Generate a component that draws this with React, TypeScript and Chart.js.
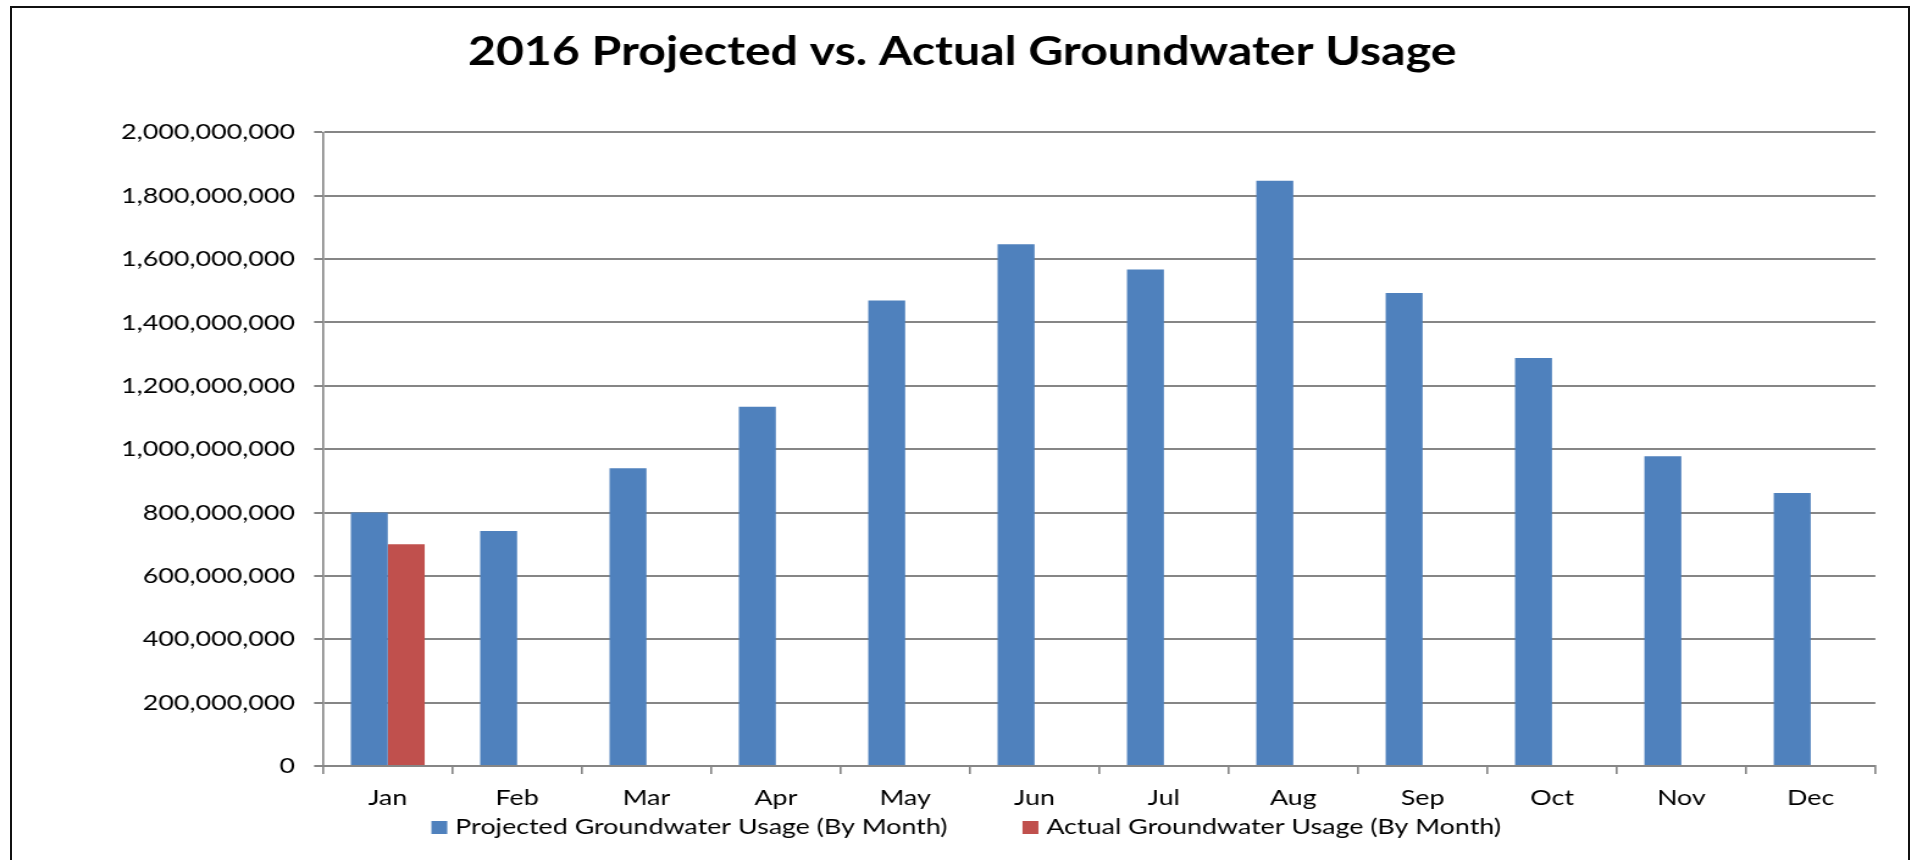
import React, { useEffect, useRef } from "react";
import { Chart, registerables } from "chart.js";

Chart.register(...registerables);

const chartTitle = "2016 Projected vs. Actual Groundwater Usage";
const months = ["Jan", "Feb", "Mar", "Apr", "May", "Jun", "Jul", "Aug", "Sep", "Oct", "Nov", "Dec"];
const projectedUsage = [
  800000000, 742000000, 940000000, 1134000000, 1469000000, 1647000000,
  1567000000, 1847000000, 1493000000, 1288000000, 978000000, 862000000,
];
const actualUsage: (number | null)[] = [
  700000000, null, null, null, null, null, null, null, null, null, null, null,
];
const seriesNames = [
  "Projected Groundwater Usage (By Month)",
  "Actual Groundwater Usage (By Month)",
];
const seriesColors = ["#4F81BD", "#C0504D"];
const yMin = 0;
const yMax = 2000000000;
const yStep = 200000000;

const FONT = "Lato, 'Open Sans', sans-serif";
const GRID = "#868686";

// The original picture is a horizontally stretched Excel chart: the chart is
// rendered on a narrower canvas and displayed stretched to the page width.
const PAGE_W = 1917;
const PAGE_H = 860;
const STRETCH = 1.22;
const CANVAS_W = Math.round(PAGE_W / STRETCH);
const sx = (v: number) => v / STRETCH;
const PAD_LEFT = 6;

const bottomLegend = {
  id: "bottomLegend",
  afterDraw(chart: any) {
    const ctx = chart.ctx as CanvasRenderingContext2D;
    ctx.save();
    ctx.font = `22px ${FONT}`;
    const boxW = 13;
    const boxH = 13;
    const gap = sx(8);
    const spacing = sx(75);
    const items = chart.data.datasets.map((ds: any) => ({
      label: ds.label as string,
      color: ds.backgroundColor as string,
      w: ctx.measureText(ds.label).width,
    }));
    const total =
      items.reduce((s: number, it: any) => s + boxW + gap + it.w, 0) + spacing * (items.length - 1);
    let x = sx(966) - total / 2;
    const y = chart.chartArea.bottom + 61;
    ctx.textBaseline = "middle";
    ctx.textAlign = "left";
    for (const it of items) {
      ctx.fillStyle = it.color;
      ctx.fillRect(x, Math.round(y - boxH / 2), boxW, boxH);
      x += boxW + gap;
      ctx.fillStyle = "#000";
      ctx.fillText(it.label, x, y);
      x += it.w + spacing;
    }
    ctx.restore();
  },
};

export default function App() {
  const canvasRef = useRef<HTMLCanvasElement | null>(null);

  useEffect(() => {
    if (!canvasRef.current) return;
    Chart.defaults.font.family = FONT;
    const chart = new Chart(canvasRef.current, {
      type: "bar",
      data: {
        labels: months,
        datasets: [
          {
            label: seriesNames[0],
            data: projectedUsage,
            backgroundColor: seriesColors[0],
            borderWidth: 0,
            categoryPercentage: 2 / 3.5,
            barPercentage: 1,
          },
          {
            label: seriesNames[1],
            data: actualUsage,
            backgroundColor: seriesColors[1],
            borderWidth: 0,
            categoryPercentage: 2 / 3.5,
            barPercentage: 1,
          },
        ],
      },
      options: {
        responsive: false,
        animation: false,
        devicePixelRatio: 1,
        layout: { padding: { left: PAD_LEFT, right: 0, top: 0, bottom: 0 } },
        plugins: {
          legend: { display: false },
          tooltip: { enabled: false },
          title: {
            display: true,
            text: chartTitle,
            color: "#000",
            font: { family: FONT, size: 39.5, weight: "bold" },
            padding: { top: 29, bottom: 56 },
          },
        },
        scales: {
          x: {
            offset: true,
            grid: {
              offset: true,
              drawOnChartArea: false,
              drawTicks: true,
              tickLength: 8,
              color: GRID,
              lineWidth: sx(2),
            },
            border: { display: true, color: GRID, width: 2 },
            ticks: {
              color: "#000",
              font: { family: FONT, size: 22 },
              padding: 11,
              maxRotation: 0,
              autoSkip: false,
            },
            afterFit: (scale: any) => {
              scale.height = 94;
            },
          },
          y: {
            min: yMin,
            max: yMax,
            grid: {
              color: GRID,
              lineWidth: 2,
              drawTicks: true,
              tickLength: sx(9),
            },
            border: { display: true, color: GRID, width: sx(2) },
            ticks: {
              stepSize: yStep,
              color: "#000",
              font: { family: FONT, size: 22 },
              padding: sx(19),
              callback: (v: any) => Number(v).toLocaleString("en-US"),
            },
            afterFit: (scale: any) => {
              scale.width = sx(323) - PAD_LEFT;
            },
          },
          // empty spacer on the right so the plot ends where the original does
          spacer: {
            type: "linear",
            position: "right",
            display: true,
            grid: { display: false, drawTicks: false },
            border: { display: false },
            ticks: { display: false },
            afterFit: (scale: any) => {
              scale.width = CANVAS_W - sx(1875);
            },
          },
        },
      },
      plugins: [bottomLegend],
    });
    return () => chart.destroy();
  }, []);

  return (
    <div
      style={{
        position: "fixed",
        left: 0,
        top: 0,
        width: PAGE_W,
        height: PAGE_H,
        overflow: "hidden",
        background: "#fff",
      }}
    >
      <div
        style={{
          position: "absolute",
          left: 10,
          top: 6,
          width: 1900,
          height: 900,
          boxSizing: "border-box",
          border: "2px solid #111",
        }}
      />
      <canvas
        ref={canvasRef}
        width={CANVAS_W}
        height={PAGE_H}
        style={{
          position: "absolute",
          left: 0,
          top: 0,
          display: "block",
          width: `${PAGE_W}px`,
          height: `${PAGE_H}px`,
        }}
      />
    </div>
  );
}
